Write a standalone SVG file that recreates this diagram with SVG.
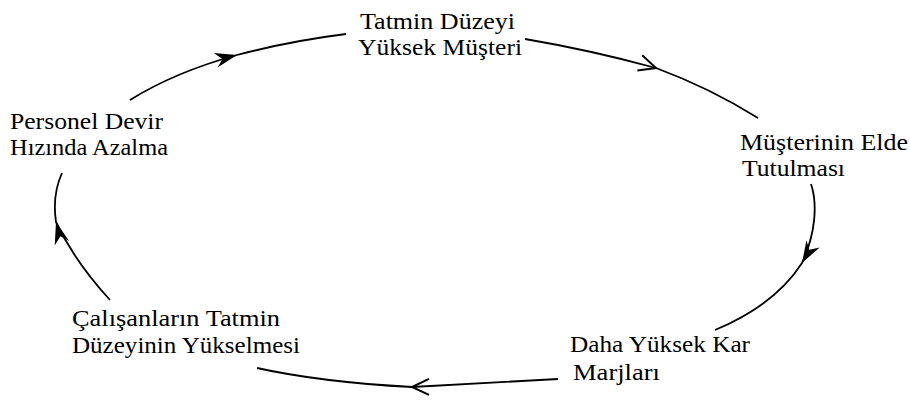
<svg xmlns="http://www.w3.org/2000/svg" width="910" height="401" viewBox="0 0 910 401">
<style>
.t{font-family:"Liberation Serif","Times New Roman",serif;font-size:23px;fill:#000}
.c{fill:none;stroke:#000;stroke-width:1.8}
</style>
<defs>
<marker id="af" markerUnits="userSpaceOnUse" markerWidth="40" markerHeight="40" refX="0" refY="0" orient="auto" overflow="visible" viewBox="-30 -20 40 40">
<path d="M0,0 L-22,-8 L-15,0 L-22,7 Z" fill="#000"/>
</marker>
<marker id="ao" markerUnits="userSpaceOnUse" markerWidth="40" markerHeight="40" refX="0" refY="0" orient="auto" overflow="visible" viewBox="-30 -20 40 40">
<path d="M-17,-8 L0,0 L-17,8" fill="none" stroke="#000" stroke-width="2"/>
</marker>
</defs>
<rect width="910" height="401" fill="#fff"/>
<g id="connectors">
<path class="c" d="M130,100 Q175,72 237,55 Q290,41 346,34" marker-mid="url(#af)"/>
<path class="c" d="M525,39 Q590,50 656,68 Q710,88 758,118" marker-mid="url(#ao)"/>
<path class="c" d="M811,184 C818,205 815,235 802,263 Q775,305 715,330" marker-mid="url(#af)"/>
<path class="c" d="M558,379 Q480,383 412,387 Q320,382 257,368" marker-mid="url(#ao)"/>
<path class="c" d="M110,300 Q75,262 56,222 Q52,195 62,173" marker-mid="url(#af)"/>
</g>
<g id="node-musteri">
<text class="t" x="360" y="29" textLength="155" lengthAdjust="spacingAndGlyphs">Tatmin Düzeyi</text>
<text class="t" x="358" y="55" textLength="164" lengthAdjust="spacingAndGlyphs">Yüksek Müşteri</text>
</g>
<g id="node-elde">
<text class="t" x="740" y="150" textLength="168" lengthAdjust="spacingAndGlyphs">Müşterinin Elde</text>
<text class="t" x="742" y="176" textLength="103" lengthAdjust="spacingAndGlyphs">Tutulması</text>
</g>
<g id="node-kar">
<text class="t" x="570" y="352" textLength="180" lengthAdjust="spacingAndGlyphs">Daha Yüksek Kar</text>
<text class="t" x="573" y="380" textLength="87" lengthAdjust="spacingAndGlyphs">Marjları</text>
</g>
<g id="node-calisan">
<text class="t" x="72" y="326" textLength="208" lengthAdjust="spacingAndGlyphs">Çalışanların Tatmin</text>
<text class="t" x="72" y="353" textLength="228" lengthAdjust="spacingAndGlyphs">Düzeyinin Yükselmesi</text>
</g>
<g id="node-personel">
<text class="t" x="10" y="129" textLength="153" lengthAdjust="spacingAndGlyphs">Personel Devir</text>
<text class="t" x="10" y="155" textLength="158" lengthAdjust="spacingAndGlyphs">Hızında Azalma</text>
</g>
</svg>
